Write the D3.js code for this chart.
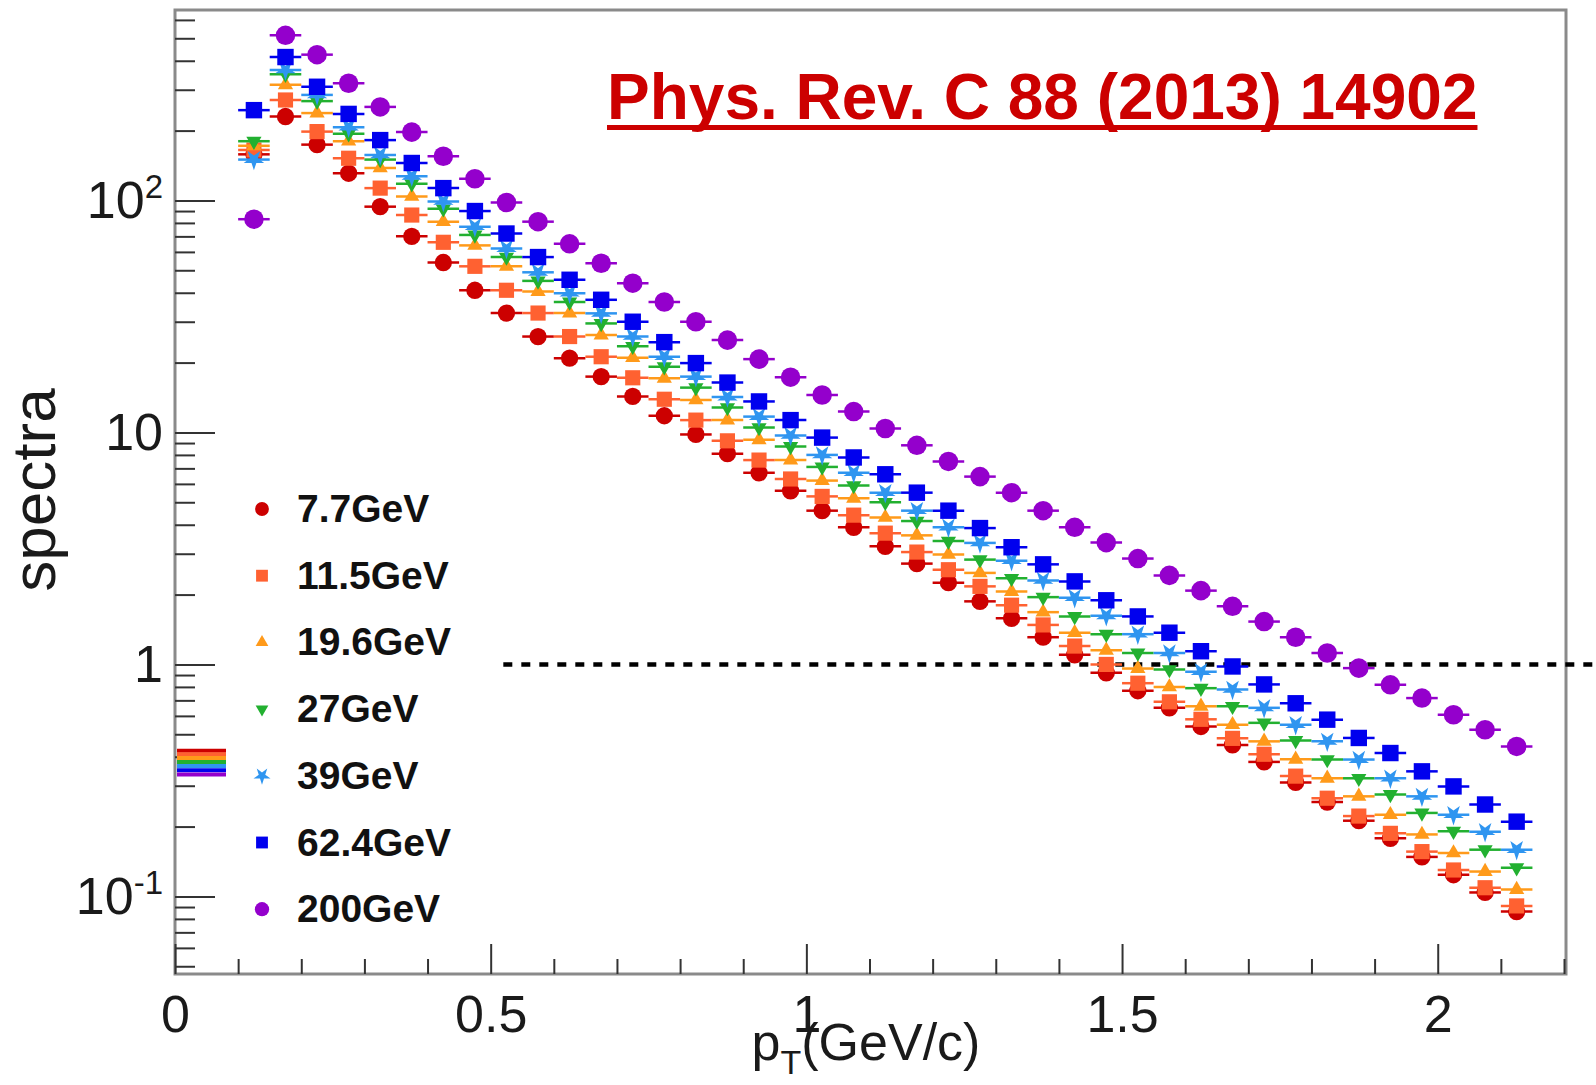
<!DOCTYPE html>
<html>
<head>
<meta charset="utf-8">
<script src="https://cdn.jsdelivr.net/npm/d3@7"></script>
<style>
  body { margin: 0; background: #fff; }
  text { font-family: "Liberation Sans", Arial, Helvetica, sans-serif; }
</style>
</head>
<body>
<div id="chart"></div>
<script>
// bin centres in pT (GeV/c)
const pT = [0.125, 0.175, 0.225, 0.275, 0.325, 0.375, 0.425, 0.475, 0.525, 0.575,
    0.625, 0.675, 0.725, 0.775, 0.825, 0.875, 0.925, 0.975, 1.025, 1.075,
    1.125, 1.175, 1.225, 1.275, 1.325, 1.375, 1.425, 1.475, 1.525, 1.575,
    1.625, 1.675, 1.725, 1.775, 1.825, 1.875, 1.925, 1.975, 2.025, 2.075, 2.125];

const spec7p7 = [158, 230, 174, 131, 94, 70, 54, 41, 32.7, 25.9,
    20.9, 17.4, 14.3, 11.8, 9.8, 8.1, 6.7, 5.6, 4.6, 3.9,
    3.23, 2.72, 2.25, 1.87, 1.58, 1.31, 1.1, 0.92, 0.77, 0.65,
    0.54, 0.45, 0.38, 0.31, 0.255, 0.212, 0.178, 0.148, 0.124, 0.104, 0.086];
const spec11p5 = [165, 271, 198, 152, 113, 86.5, 66, 52, 41, 32.7,
    25.9, 21.2, 17.2, 13.9, 11.3, 9.2, 7.6, 6.3, 5.3, 4.4,
    3.68, 3.05, 2.56, 2.17, 1.8, 1.48, 1.2, 1.0, 0.83, 0.69,
    0.58, 0.48, 0.41, 0.33, 0.265, 0.222, 0.187, 0.156, 0.13, 0.109, 0.091];
const spec19p6 = [172, 315, 238, 180, 138, 104, 81, 64, 52, 40.5,
    32.7, 26.3, 21, 17.1, 13.8, 11.3, 9.3, 7.6, 6.2, 5.2,
    4.3, 3.6, 2.98, 2.48, 2.06, 1.68, 1.37, 1.15, 0.96, 0.80,
    0.66, 0.55, 0.466, 0.39, 0.323, 0.27, 0.225, 0.185, 0.154, 0.128, 0.107];
const spec27 = [180, 350, 268, 194, 150, 118, 92, 71, 57, 45,
    36.5, 29.5, 23.5, 19.2, 15.6, 12.8, 10.5, 8.7, 7.1, 5.9,
    5.0, 4.15, 3.4, 2.83, 2.35, 1.95, 1.61, 1.35, 1.12, 0.95,
    0.79, 0.66, 0.56, 0.47, 0.389, 0.323, 0.275, 0.229, 0.191, 0.159, 0.133];
const spec39 = [150, 365, 285, 207, 157, 127, 99, 77, 62, 49,
    39.8, 32.6, 25.9, 21.2, 17.4, 14.2, 11.7, 9.7, 8.0, 6.7,
    5.5, 4.6, 3.9, 3.34, 2.8, 2.3, 1.94, 1.62, 1.35, 1.12,
    0.93, 0.78, 0.65, 0.55, 0.466, 0.389, 0.323, 0.27, 0.225, 0.19, 0.159];
const spec62p4 = [245, 415, 309, 236, 182, 145, 113, 90, 72, 57,
    45.5, 37.3, 30, 24.5, 19.9, 16.4, 13.6, 11.3, 9.5, 7.8,
    6.6, 5.5, 4.6, 3.87, 3.2, 2.7, 2.28, 1.89, 1.61, 1.37,
    1.14, 0.98, 0.82, 0.68, 0.578, 0.482, 0.415, 0.346, 0.298, 0.249, 0.21];
const spec200 = [83, 515, 425, 320, 253, 197, 155, 124, 98, 81,
    65, 53.6, 44, 36.5, 30, 25, 20.7, 17.3, 14.5, 12.3,
    10.4, 8.8, 7.5, 6.45, 5.5, 4.6, 3.9, 3.35, 2.86, 2.42,
    2.08, 1.78, 1.53, 1.31, 1.12, 0.964, 0.817, 0.716, 0.607, 0.523, 0.443];

const energies = ["7.7GeV", "11.5GeV", "19.6GeV", "27GeV", "39GeV", "62.4GeV", "200GeV"];
const seriesValues = [spec7p7, spec11p5, spec19p6, spec27, spec39, spec62p4, spec200];
// short coloured markers on the y axis
const axisMarks = [0.425, 0.41, 0.395, 0.38, 0.365, 0.35, 0.335];

const xMajor = [0, 0.5, 1, 1.5, 2];
const xMinor = [0.1, 0.2, 0.3, 0.4, 0.6, 0.7, 0.8, 0.9, 1.1, 1.2, 1.3, 1.4, 1.6, 1.7, 1.8, 1.9, 2.1, 2.2];
const yMajor = [0.1, 1, 10, 100];
const yMinor = [0.05, 0.06, 0.07, 0.08, 0.09, 0.2, 0.3, 0.4, 0.5, 0.6, 0.7, 0.8, 0.9,
    2, 3, 4, 5, 6, 7, 8, 9, 20, 30, 40, 50, 60, 70, 80, 90, 200, 300, 400, 500, 600];
const yLabels = [["10", "-1"], ["1", ""], ["10", ""], ["10", "2"]];
const binHalf = 0.025;
const lineStart = 0.52;

const colors = ["#cc0000", "#ff6131", "#ff9a1a", "#22b030", "#2f95f0", "#0000ee", "#9400cc"];
const shapes = [
    {type: d3.symbolCircle, size: 235, legend: 150, rot: 0},
    {type: d3.symbolSquare, size: 230, legend: 140, rot: 0},
    {type: d3.symbolTriangle, size: 100, legend: 70, rot: 0},
    {type: d3.symbolTriangle, size: 100, legend: 70, rot: 180},
    {type: d3.symbolStar, size: 130, legend: 90, rot: 180},
    {type: d3.symbolSquare, size: 270, legend: 140, rot: 0},
    {type: d3.symbolCircle, size: 300, legend: 160, rot: 0}
];

const width = 1596, height = 1085;
const plotLeft = 175, plotRight = 1566, plotTop = 10, plotBottom = 974;

const svg = d3.select("#chart").append("svg")
    .attr("width", width)
    .attr("height", height);

const x = d3.scaleLinear().domain([0, 2.2]).range([plotLeft, 1564]);
const y = d3.scaleLog().domain([0.0463, 662]).range([plotBottom, plotTop]);

// frame
svg.append("rect")
    .attr("x", plotLeft).attr("y", plotTop)
    .attr("width", plotRight - plotLeft).attr("height", plotBottom - plotTop)
    .attr("fill", "none").attr("stroke", "#8a8a8a").attr("stroke-width", 3);

const styleAxis = g => {
    g.select(".domain").remove();
    g.selectAll(".tick line").attr("stroke", "#333").attr("stroke-width", 2);
};

// y axis ticks (drawn inwards)
svg.append("g").attr("transform", `translate(${plotLeft},0)`)
    .call(d3.axisLeft(y).tickValues(yMinor).tickSize(-20).tickFormat(""))
    .call(styleAxis);
svg.append("g").attr("transform", `translate(${plotLeft},0)`)
    .call(d3.axisLeft(y).tickValues(yMajor).tickSize(-40).tickFormat(""))
    .call(styleAxis);

// y tick labels with exponents
yMajor.forEach((v, i) => {
    const t = svg.append("text")
        .attr("x", 163)
        .attr("y", y(v) + 18)
        .attr("text-anchor", "end")
        .attr("font-size", 52)
        .attr("fill", "#1a1a1a");
    t.append("tspan").text(yLabels[i][0]);
    if (yLabels[i][1] !== "") {
        t.append("tspan").attr("dy", -20).attr("font-size", 33).text(yLabels[i][1]);
    }
});

// x axis
svg.append("g").attr("transform", `translate(0,${plotBottom})`)
    .call(d3.axisBottom(x).tickValues(xMinor).tickSize(-15).tickFormat(""))
    .call(styleAxis);
svg.append("g").attr("transform", `translate(0,${plotBottom})`)
    .call(d3.axisBottom(x).tickValues(xMajor).tickSize(-30).tickPadding(21).tickFormat(d3.format("")))
    .call(styleAxis)
    .call(g => g.selectAll(".tick text")
        .attr("font-size", 52)
        .attr("fill", "#1a1a1a")
        .attr("font-family", "Liberation Sans, Arial, sans-serif"));

// axis titles
svg.append("text")
    .attr("transform", "translate(55,490) rotate(-90)")
    .attr("text-anchor", "middle")
    .attr("font-size", 62)
    .attr("fill", "#1a1a1a")
    .text("spectra");

const xt = svg.append("text")
    .attr("x", 866).attr("y", 1060)
    .attr("text-anchor", "middle")
    .attr("font-size", 52)
    .attr("fill", "#1a1a1a");
xt.append("tspan").text("p");
xt.append("tspan").attr("font-size", 34).attr("dy", 14).text("T");
xt.append("tspan").attr("dy", -14).text("(GeV/c)");

// coloured marks on the y axis
svg.append("g").selectAll("line")
    .data(axisMarks)
    .join("line")
    .attr("x1", plotLeft + 2).attr("x2", 226)
    .attr("y1", d => y(d)).attr("y2", d => y(d))
    .attr("stroke", (d, i) => colors[i])
    .attr("stroke-width", 4);

// y = 1 reference line
svg.append("line")
    .attr("x1", x(lineStart)).attr("x2", width)
    .attr("y1", y(1)).attr("y2", y(1))
    .attr("stroke", "#000")
    .attr("stroke-width", 4.5)
    .attr("stroke-dasharray", "9,9");

// data: horizontal bin-width bars + markers
seriesValues.forEach((vals, s) => {
    const g = svg.append("g").attr("class", "series");
    const pts = pT.map((p, i) => ({p: p, v: vals[i]}));
    g.selectAll("line")
        .data(pts)
        .join("line")
        .attr("x1", d => x(d.p - binHalf))
        .attr("x2", d => x(d.p + binHalf))
        .attr("y1", d => y(d.v))
        .attr("y2", d => y(d.v))
        .attr("stroke", colors[s])
        .attr("stroke-width", 2.5);
    g.selectAll("path")
        .data(pts)
        .join("path")
        .attr("d", d3.symbol().type(shapes[s].type).size(shapes[s].size))
        .attr("transform", d => `translate(${x(d.p)},${y(d.v)}) rotate(${shapes[s].rot})`)
        .attr("fill", colors[s]);
});

// legend
const legend = svg.append("g").attr("class", "legend");
energies.forEach((e, i) => {
    const cy = 509 + i * 66.7;
    legend.append("path")
        .attr("d", d3.symbol().type(shapes[i].type).size(shapes[i].legend))
        .attr("transform", `translate(262,${cy}) rotate(${shapes[i].rot})`)
        .attr("fill", colors[i]);
    legend.append("text")
        .attr("x", 297).attr("y", cy + 13)
        .attr("font-size", 39)
        .attr("font-weight", "bold")
        .attr("fill", "#111")
        .text(e);
});

// reference title
const title = svg.append("text")
    .attr("x", 607).attr("y", 119)
    .attr("font-size", 64)
    .attr("font-weight", "bold")
    .attr("fill", "#cc0000")
    .text("Phys. Rev. C 88 (2013) 14902");
const bb = title.node().getBBox();
svg.append("rect")
    .attr("x", bb.x).attr("y", 125)
    .attr("width", bb.width).attr("height", 5)
    .attr("fill", "#cc0000");
</script>
</body>
</html>
